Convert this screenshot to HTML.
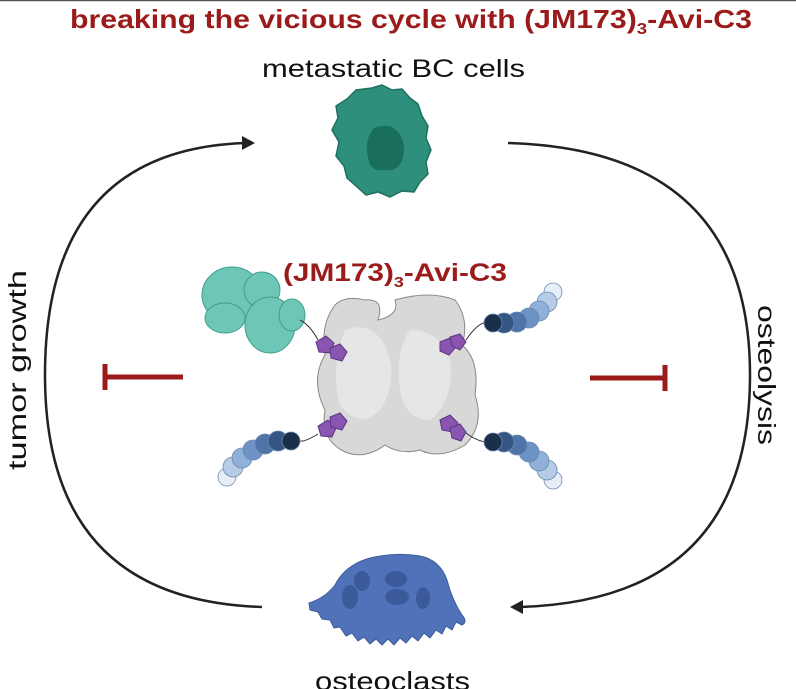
<!DOCTYPE html>
<html><head><style>html,body{margin:0;padding:0;background:#fff;width:796px;height:689px;overflow:hidden}</style></head>
<body>
<svg width="796" height="689" viewBox="0 0 796 689" xmlns="http://www.w3.org/2000/svg" font-family="Liberation Sans, sans-serif">
<line x1="0" y1="0.5" x2="796" y2="0.5" stroke="#555" stroke-width="1.5"/>
<text x="70" y="28" font-size="26" font-weight="bold" fill="#9b1b1b" textLength="682" lengthAdjust="spacingAndGlyphs">breaking the vicious cycle with (JM173)<tspan font-size="16" dy="6">3</tspan><tspan dy="-6">-Avi-C3</tspan></text>
<text x="262" y="77" font-size="25" fill="#111" textLength="263" lengthAdjust="spacingAndGlyphs">metastatic BC cells</text>
<!-- cell -->
<path d="M372,88 L382,85 L392,90 L402,89 L410,98 L418,104 L422,116 L428,126 L426,138 L431,150 L426,162 L428,174 L420,182 L414,192 L402,191 L390,197 L378,192 L366,195 L356,186 L347,178 L344,166 L336,156 L339,142 L332,130 L338,118 L336,106 L347,99 L356,90 Z" fill="#2e8f7c" stroke="#1f6f5f" stroke-width="1.5" stroke-linejoin="round"/>
<path d="M374,128 Q390,122 398,132 Q408,145 402,160 Q398,172 384,170 Q370,172 368,158 Q364,140 374,128 Z" fill="#1a6f5c"/>
<!-- arcs -->
<path d="M262,607 Q45,600 45,375 Q45,150 245,143" fill="none" stroke="#222" stroke-width="2.5"/>
<path d="M255,143 L242,136 L242,150 Z" fill="#222"/>
<path d="M508,143 Q750,150 750,375 Q750,600 520,607" fill="none" stroke="#222" stroke-width="2.5"/>
<path d="M510,607 L523,600 L523,614 Z" fill="#222"/>
<text transform="translate(26,370) rotate(-90)" font-size="25" fill="#111" text-anchor="middle" textLength="200" lengthAdjust="spacingAndGlyphs">tumor growth</text>
<text transform="translate(758,375) rotate(90)" font-size="25" fill="#111" text-anchor="middle" textLength="140" lengthAdjust="spacingAndGlyphs">osteolysis</text>
<!-- inhibition -->
<g stroke="#9b1b1b" stroke-width="5"><line x1="105" y1="377" x2="183" y2="377"/><line x1="105" y1="364" x2="105" y2="390"/><line x1="590" y1="378" x2="665" y2="378"/><line x1="665" y1="365" x2="665" y2="391"/></g>
<text x="283" y="281" font-size="25" font-weight="bold" fill="#9b1b1b" textLength="224" lengthAdjust="spacingAndGlyphs">(JM173)<tspan font-size="15" dy="6">3</tspan><tspan dy="-6">-Avi-C3</tspan></text>
<!-- protein -->
<path d="M335,305 Q345,295 365,300 Q385,298 378,320 Q400,315 395,300 Q430,290 455,300 Q470,320 462,345 Q480,360 475,395 Q485,425 465,445 Q440,460 420,450 Q400,455 385,445 Q365,460 345,452 Q320,440 325,410 Q310,380 325,355 Q320,325 335,305 Z" fill="#d8d8d8" stroke="#888" stroke-width="1"/>
<path d="M345,330 Q370,320 385,345 Q400,380 380,410 Q360,430 340,405 Q330,370 345,330Z M410,330 Q440,330 450,360 Q455,400 430,420 Q405,420 400,390 Q395,350 410,330Z" fill="#e6e6e6"/>
<!-- green protein -->
<g fill="#6ec6b6" stroke="#3f9e8c" stroke-width="1">
<ellipse cx="232" cy="295" rx="30" ry="28"/><ellipse cx="262" cy="290" rx="18" ry="18"/><ellipse cx="270" cy="325" rx="25" ry="28"/><ellipse cx="292" cy="315" rx="13" ry="16"/><ellipse cx="225" cy="318" rx="20" ry="15"/>
</g>
<path d="M300,320 Q310,325 318,340" fill="none" stroke="#333"/>
<!-- pentagons -->
<g fill="#8a55b0" stroke="#5a3580" stroke-width="1">
<path d="M316,342 L326,336 L334,343 L330,353 L319,352Z"/><path d="M330,348 L340,344 L347,352 L342,361 L331,358Z"/>
<path d="M440,342 L450,338 L456,347 L449,355 L440,351Z"/><path d="M450,337 L460,334 L466,342 L460,350 L452,346Z"/>
<path d="M318,426 L328,420 L336,428 L332,437 L321,436Z"/><path d="M330,417 L340,413 L347,421 L342,430 L331,427Z"/>
<path d="M440,420 L450,415 L458,423 L452,432 L442,430Z"/><path d="M450,428 L460,424 L466,432 L461,441 L452,438Z"/>
</g>
<g fill="none" stroke="#333"><path d="M466,340 Q478,322 488,322"/><path d="M466,433 Q478,442 488,442"/><path d="M318,434 Q305,442 300,441"/></g>
<!-- bead chains -->
<g stroke="#6a8ab0" stroke-width="0.8">
<circle cx="553" cy="292" r="9" fill="#e8eef8"/><circle cx="547" cy="302" r="10" fill="#b6cbe6"/><circle cx="539" cy="311" r="10" fill="#8fb0d8"/><circle cx="529" cy="318" r="10" fill="#6d92c4"/><circle cx="517" cy="322" r="10" fill="#4e74a8"/><circle cx="504" cy="323" r="10" fill="#355683"/><circle cx="493" cy="323" r="9" fill="#1a2f4a"/>
<circle cx="553" cy="480" r="9" fill="#e8eef8"/><circle cx="547" cy="470" r="10" fill="#b6cbe6"/><circle cx="539" cy="461" r="10" fill="#8fb0d8"/><circle cx="529" cy="452" r="10" fill="#6d92c4"/><circle cx="517" cy="445" r="10" fill="#4e74a8"/><circle cx="504" cy="442" r="10" fill="#355683"/><circle cx="493" cy="442" r="9" fill="#1a2f4a"/>
<circle cx="227" cy="477" r="9" fill="#e8eef8"/><circle cx="233" cy="467" r="10" fill="#b6cbe6"/><circle cx="242" cy="458" r="10" fill="#8fb0d8"/><circle cx="253" cy="450" r="10" fill="#6d92c4"/><circle cx="265" cy="444" r="10" fill="#4e74a8"/><circle cx="278" cy="441" r="10" fill="#355683"/><circle cx="291" cy="441" r="9" fill="#1a2f4a"/>
</g>
<!-- osteoclast -->
<path d="M309,603 Q325,598 335,585 Q345,565 370,558 Q395,552 420,556 Q440,560 447,580 Q452,600 462,615 Q468,622 462,625 L456,622 L452,630 L446,626 L442,634 L436,630 L430,638 L424,633 L418,641 L412,636 L406,643 L400,638 L394,645 L388,639 L382,645 L376,639 L370,644 L364,637 L358,641 L352,633 L346,636 L340,627 L334,628 L330,620 L322,619 L318,612 L310,610 Z" fill="#4f72b8" stroke="#3d5c9a" stroke-linejoin="round"/>
<g fill="#3a5a9a"><ellipse cx="350" cy="597" rx="8" ry="12"/><ellipse cx="362" cy="581" rx="8" ry="10"/><ellipse cx="396" cy="579" rx="11" ry="8"/><ellipse cx="397" cy="597" rx="12" ry="8"/><ellipse cx="423" cy="598" rx="7" ry="11"/></g>
<text x="315" y="690" font-size="26" fill="#111" textLength="155" lengthAdjust="spacingAndGlyphs">osteoclasts</text>
</svg>
</body></html>
